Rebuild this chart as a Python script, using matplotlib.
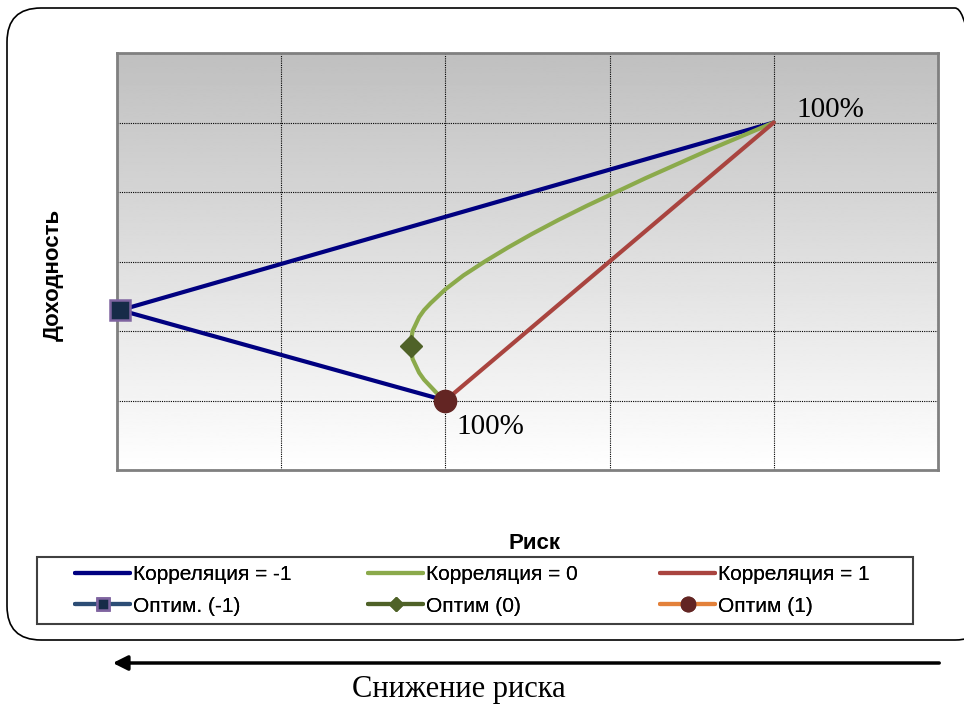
import numpy as np
import matplotlib
matplotlib.use("Agg")
import matplotlib.pyplot as plt
import matplotlib.patches as mpatches
from matplotlib.transforms import IdentityTransform

# ---- data (risk, return) ----
risk_neg1 = [10.0, 0.1, 20.0]
ret_neg1 = [5.0, 11.5, 25.0]

risk_zero = [10.0, 9.75, 9.55, 9.35, 9.2, 9.1, 9.0, 8.97, 8.95, 8.97, 9.0, 9.1, 9.2, 9.35,
             9.55, 10.0, 10.55, 11.2, 11.9, 12.65, 13.45, 14.3, 15.2, 16.1, 17.05, 18.0, 19.0, 20.0]
ret_zero = [5.0, 5.5, 6.0, 6.5, 7.0, 7.5, 8.0, 8.5, 9.0, 9.5, 10.0, 10.5, 11.0, 11.5,
            12.0, 13.0, 14.0, 15.0, 16.0, 17.0, 18.0, 19.0, 20.0, 21.0, 22.0, 23.0, 24.0, 25.0]

risk_pos1 = [10.0, 20.0]
ret_pos1 = [5.0, 25.0]

opt_neg1 = (0.1, 11.5)
opt_zero = (8.95, 8.9)
opt_pos1 = (10.0, 5.0)

labels_pct = ["100%", "100%"]
label_pts = [(20.0, 25.0), (10.0, 5.0)]

series_labels = ["Корреляция = -1", "Корреляция = 0", "Корреляция = 1",
                 "Оптим. (-1)", "Оптим (0)", "Оптим (1)"]

W, H = 964, 704
fig = plt.figure(figsize=(W / 100, H / 100), dpi=100)
fig.patch.set_facecolor("white")

def fx(px):
    return px / W

def fy(py):
    return 1 - py / H

L, R, T, B = 117, 938, 53, 470
ax = fig.add_axes([fx(L), fy(B), fx(R) - fx(L), fy(T) - fy(B)])

# gradient background (dark at top, white at bottom)
grad = np.linspace(0.75, 1.0, 256).reshape(-1, 1)
ax.imshow(grad, extent=(0, 25, 0, 30), origin="upper", aspect="auto", cmap="gray",
          vmin=0, vmax=1, zorder=0, interpolation="bilinear")
ax.set_xlim(0, 25)
ax.set_ylim(0, 30)

ax.set_xticks(np.arange(0, 26, 5))
ax.set_yticks(np.arange(0, 31, 5))
ax.tick_params(length=0, labelbottom=False, labelleft=False)
ax.grid(True, color="black", linestyle=(0, (1, 1)), linewidth=0.8)
for s in ax.spines.values():
    s.set_color("#808080")
    s.set_linewidth(2)

lw = 3.0
h1, = ax.plot(risk_neg1, ret_neg1, color="#000080", lw=lw, zorder=3, solid_capstyle="round")
h2, = ax.plot(risk_zero, ret_zero, color="#8BAA4B", lw=lw, zorder=3, solid_capstyle="round")
h3, = ax.plot(risk_pos1, ret_pos1, color="#A9443F", lw=lw, zorder=3, solid_capstyle="round")

h4, = ax.plot([opt_neg1[0]], [opt_neg1[1]], color="#2C4D75", lw=lw, marker="s", ms=14,
              mfc="#172B48", mec="#7F64A0", mew=1.8, zorder=5, clip_on=False,
              solid_capstyle="round")
h5, = ax.plot([opt_zero[0]], [opt_zero[1]], color="#4F6228", lw=lw, marker="D", ms=11,
              mfc="#4F6228", mec="#4F6228", zorder=5, solid_capstyle="round")
h6, = ax.plot([opt_pos1[0]], [opt_pos1[1]], color="#E3813A", lw=lw, marker="o", ms=16,
              mfc="#632523", mec="#632523", zorder=5, solid_capstyle="round")

ax.annotate(labels_pct[0], xy=label_pts[0], xytext=(16, 9), textcoords="offset points",
            fontsize=21, family="Liberation Serif", va="center", ha="left")
ax.annotate(labels_pct[1], xy=label_pts[1], xytext=(8, -19), textcoords="offset points",
            fontsize=21, family="Liberation Serif", va="center", ha="left")

ax.set_xlabel("Риск", fontsize=16, fontweight="bold", family="Liberation Sans")
ax.xaxis.set_label_coords((535 - L) / (R - L), (B - 533) / (B - T))
ax.set_ylabel("Доходность", fontsize=16, fontweight="bold", family="Liberation Sans")
ax.yaxis.set_label_coords((64 - L) / (R - L), (B - 275) / (B - T))

# legend frame
fig.add_artist(mpatches.Rectangle((fx(37), fy(624)), fx(913) - fx(37), fy(557) - fy(624),
                                  transform=fig.transFigure, fill=False,
                                  edgecolor="#404040", linewidth=1.5))
cols = [([h1, h4], [series_labels[0], series_labels[3]], 75),
        ([h2, h5], [series_labels[1], series_labels[4]], 368),
        ([h3, h6], [series_labels[2], series_labels[5]], 660)]
for hs, ls, x0 in cols:
    lg = fig.legend(hs, ls, loc="center left", bbox_to_anchor=(fx(x0), fy(590.5)),
                    prop={"family": "Liberation Sans", "size": 15}, frameon=False,
                    borderpad=0, borderaxespad=0, handlelength=2.65, handletextpad=0.12,
                    numpoints=1, markerscale=0.65, labelspacing=0.6)
    fig.add_artist(lg)

# outer rounded box
box = mpatches.FancyBboxPatch((7, H - 640), 989 - 7, 640 - 8,
                              boxstyle="round,pad=0,rounding_size=34",
                              transform=IdentityTransform(), fill=False,
                              edgecolor="black", linewidth=1.2, clip_on=False)
fig.add_artist(box)

# arrow
fig.add_artist(mpatches.FancyArrowPatch((fx(942), fy(663)), (fx(110), fy(663)),
                                        transform=fig.transFigure, arrowstyle="-|>",
                                        mutation_scale=22, lw=2.5, color="black"))
fig.text(fx(459), fy(690), "Снижение риска", family="Liberation Serif", fontsize=22,
         ha="center", va="center")

fig.savefig("out.png", dpi=100)
